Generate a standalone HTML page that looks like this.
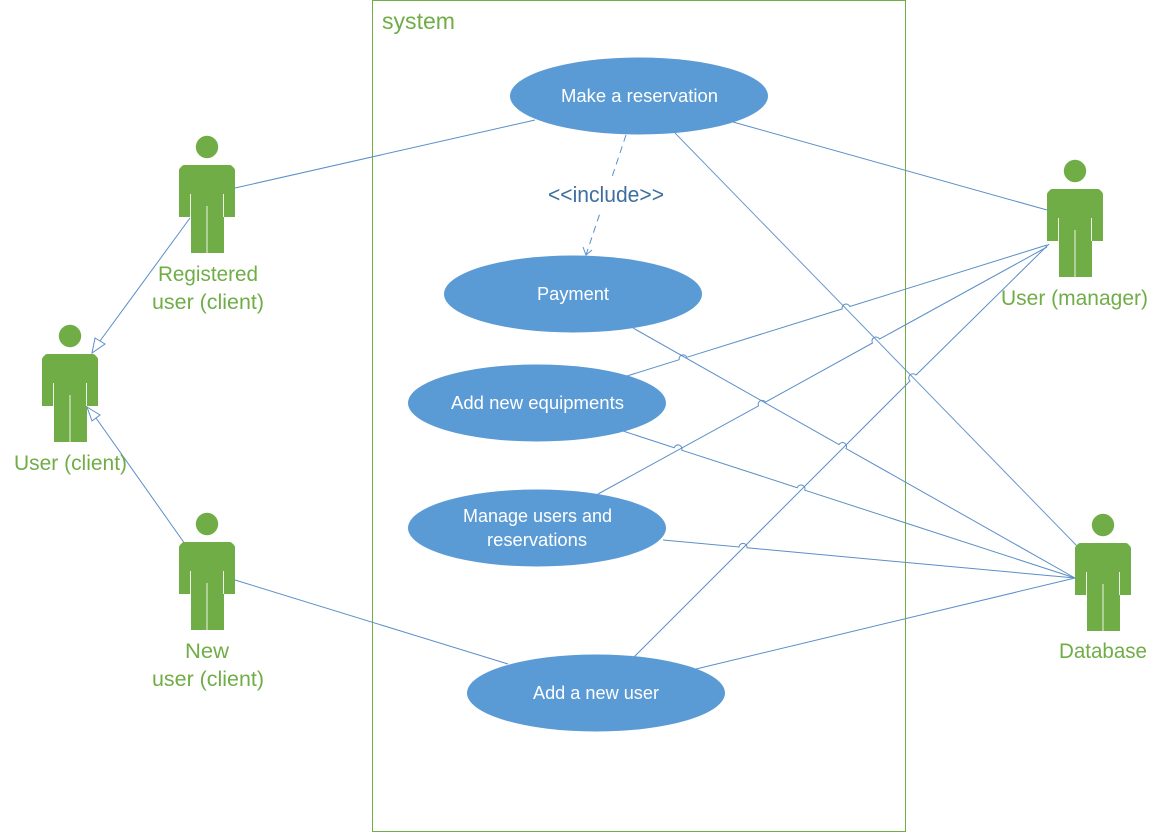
<!DOCTYPE html>
<html>
<head>
<meta charset="utf-8">
<style>
html,body{margin:0;padding:0;background:#fff;width:1161px;height:832px;overflow:hidden}
svg{display:block}
text{font-family:"Liberation Sans",sans-serif}
.g{fill:#70ad47;font-size:21px}
.w{fill:#fff;font-size:18.5px}
.l{fill:none;stroke:#5a8fc8;stroke-width:1}
</style>
</head>
<body>
<svg width="1161" height="832" viewBox="0 0 1161 832" xmlns="http://www.w3.org/2000/svg">
<defs>
<g id="actor">
<circle cx="0" cy="0" r="11.2" fill="#70ad47"/>
<path d="M-23 18 H23 Q24 18 25 19 L27 21 Q28 22 28 24 V70 H17 V106 H-16 V70 H-28 V24 Q-28 22 -27 21 L-25 19 Q-24 18 -23 18 Z" fill="#70ad47"/>
<path d="M-16.5 47 V70 M16.5 47 V70 M0 59 V106" stroke="#eef5e8" stroke-width="1" fill="none"/>
</g>
</defs>

<rect x="372.5" y="0.5" width="533" height="831" fill="#fff" stroke="#70ad47" stroke-width="1"/>
<text x="382" y="29" class="g" style="font-size:23px" textLength="73" lengthAdjust="spacingAndGlyphs">system</text>

<!-- connectors -->
<path class="l" d="M235 188 L535 120"/>
<path class="l" d="M733 122 L1047 210"/>
<path class="l" d="M675 133 L1077 546" stroke-opacity=".9"/>
<path class="l" d="M633 328 L839 444.6 A4 4 0 0 1 846 448.5 L1075 578"/>
<path class="l" d="M627 376 L679.2 359.7 A4 4 0 0 1 686.8 357.3 L842.2 308.9 A4 4 0 0 1 849.8 306.5 L1047 245"/>
<path class="l" d="M598 494 L758.5 405.9 A4 4 0 0 1 765.5 402.1 L872.5 343 A4 4 0 0 1 879.5 339.1 L1047 247"/>
<path class="l" d="M633 658 L910 381 A4 4 0 0 1 916 375 L1049 244"/>
<path class="l" d="M623 431 L674.2 447.7 A4 4 0 0 1 681.8 450.2 L797.2 487.7 A4 4 0 0 1 804.8 490.2 L1075 578"/>
<path class="l" d="M663 540 L739 547 A4 4 0 0 1 747 547.8 L1075 578"/>
<path class="l" d="M235 580 L508 664"/>
<path class="l" d="M696 669 L1075 578"/>

<!-- generalizations -->
<path class="l" d="M190 218 L100 341"/>
<path d="M92 353 L95 338 L105 344 Z" fill="#fff" stroke="#5a8fc8" stroke-width="1"/>
<path class="l" d="M185 544 L96 418"/>
<path d="M87 407 L100 415 L92 421 Z" fill="#fff" stroke="#5a8fc8" stroke-width="1"/>

<!-- include -->
<path d="M626 135 L586 255" fill="none" stroke="#5a8fc8" stroke-width="1" stroke-dasharray="7 5"/>
<path d="M583 247 L586 255 L592 250" fill="none" stroke="#5a8fc8" stroke-width="1"/>
<rect x="546" y="180" width="120" height="32" fill="#fff"/>
<text x="548" y="202" style="font-size:22px" fill="#3f6f9f" textLength="116" lengthAdjust="spacingAndGlyphs">&lt;&lt;include&gt;&gt;</text>

<!-- use cases -->
<ellipse cx="639" cy="96" rx="129" ry="38.5" fill="#5b9bd5"/>
<ellipse cx="573" cy="294" rx="129" ry="38.5" fill="#5b9bd5"/>
<ellipse cx="537" cy="403" rx="129" ry="38.5" fill="#5b9bd5"/>
<ellipse cx="537" cy="528" rx="129" ry="38.5" fill="#5b9bd5"/>
<ellipse cx="596" cy="693" rx="129" ry="38.5" fill="#5b9bd5"/>

<text x="561" y="102" class="w" textLength="157" lengthAdjust="spacingAndGlyphs">Make a reservation</text>
<text x="537" y="300" class="w" textLength="72" lengthAdjust="spacingAndGlyphs">Payment</text>
<text x="451" y="409" class="w" textLength="173" lengthAdjust="spacingAndGlyphs">Add new equipments</text>
<text x="463" y="522" class="w" textLength="149" lengthAdjust="spacingAndGlyphs">Manage users and</text>
<text x="487" y="546" class="w" textLength="100" lengthAdjust="spacingAndGlyphs">reservations</text>
<text x="533" y="699" class="w" textLength="126" lengthAdjust="spacingAndGlyphs">Add a new user</text>

<!-- actors -->
<use href="#actor" x="207" y="147"/>
<use href="#actor" x="70" y="336"/>
<use href="#actor" x="207" y="524"/>
<use href="#actor" x="1075" y="171"/>
<use href="#actor" x="1103" y="525"/>

<text x="158" y="281" class="g" textLength="100" lengthAdjust="spacingAndGlyphs">Registered</text>
<text x="152" y="309" class="g" textLength="112" lengthAdjust="spacingAndGlyphs">user (client)</text>
<text x="14" y="470" class="g" textLength="113" lengthAdjust="spacingAndGlyphs">User (client)</text>
<text x="185" y="658" class="g" textLength="44" lengthAdjust="spacingAndGlyphs">New</text>
<text x="152" y="686" class="g" textLength="112" lengthAdjust="spacingAndGlyphs">user (client)</text>
<text x="1001" y="305" class="g" textLength="147" lengthAdjust="spacingAndGlyphs">User (manager)</text>
<text x="1059" y="658" class="g" textLength="88" lengthAdjust="spacingAndGlyphs">Database</text>
</svg>
</body>
</html>
